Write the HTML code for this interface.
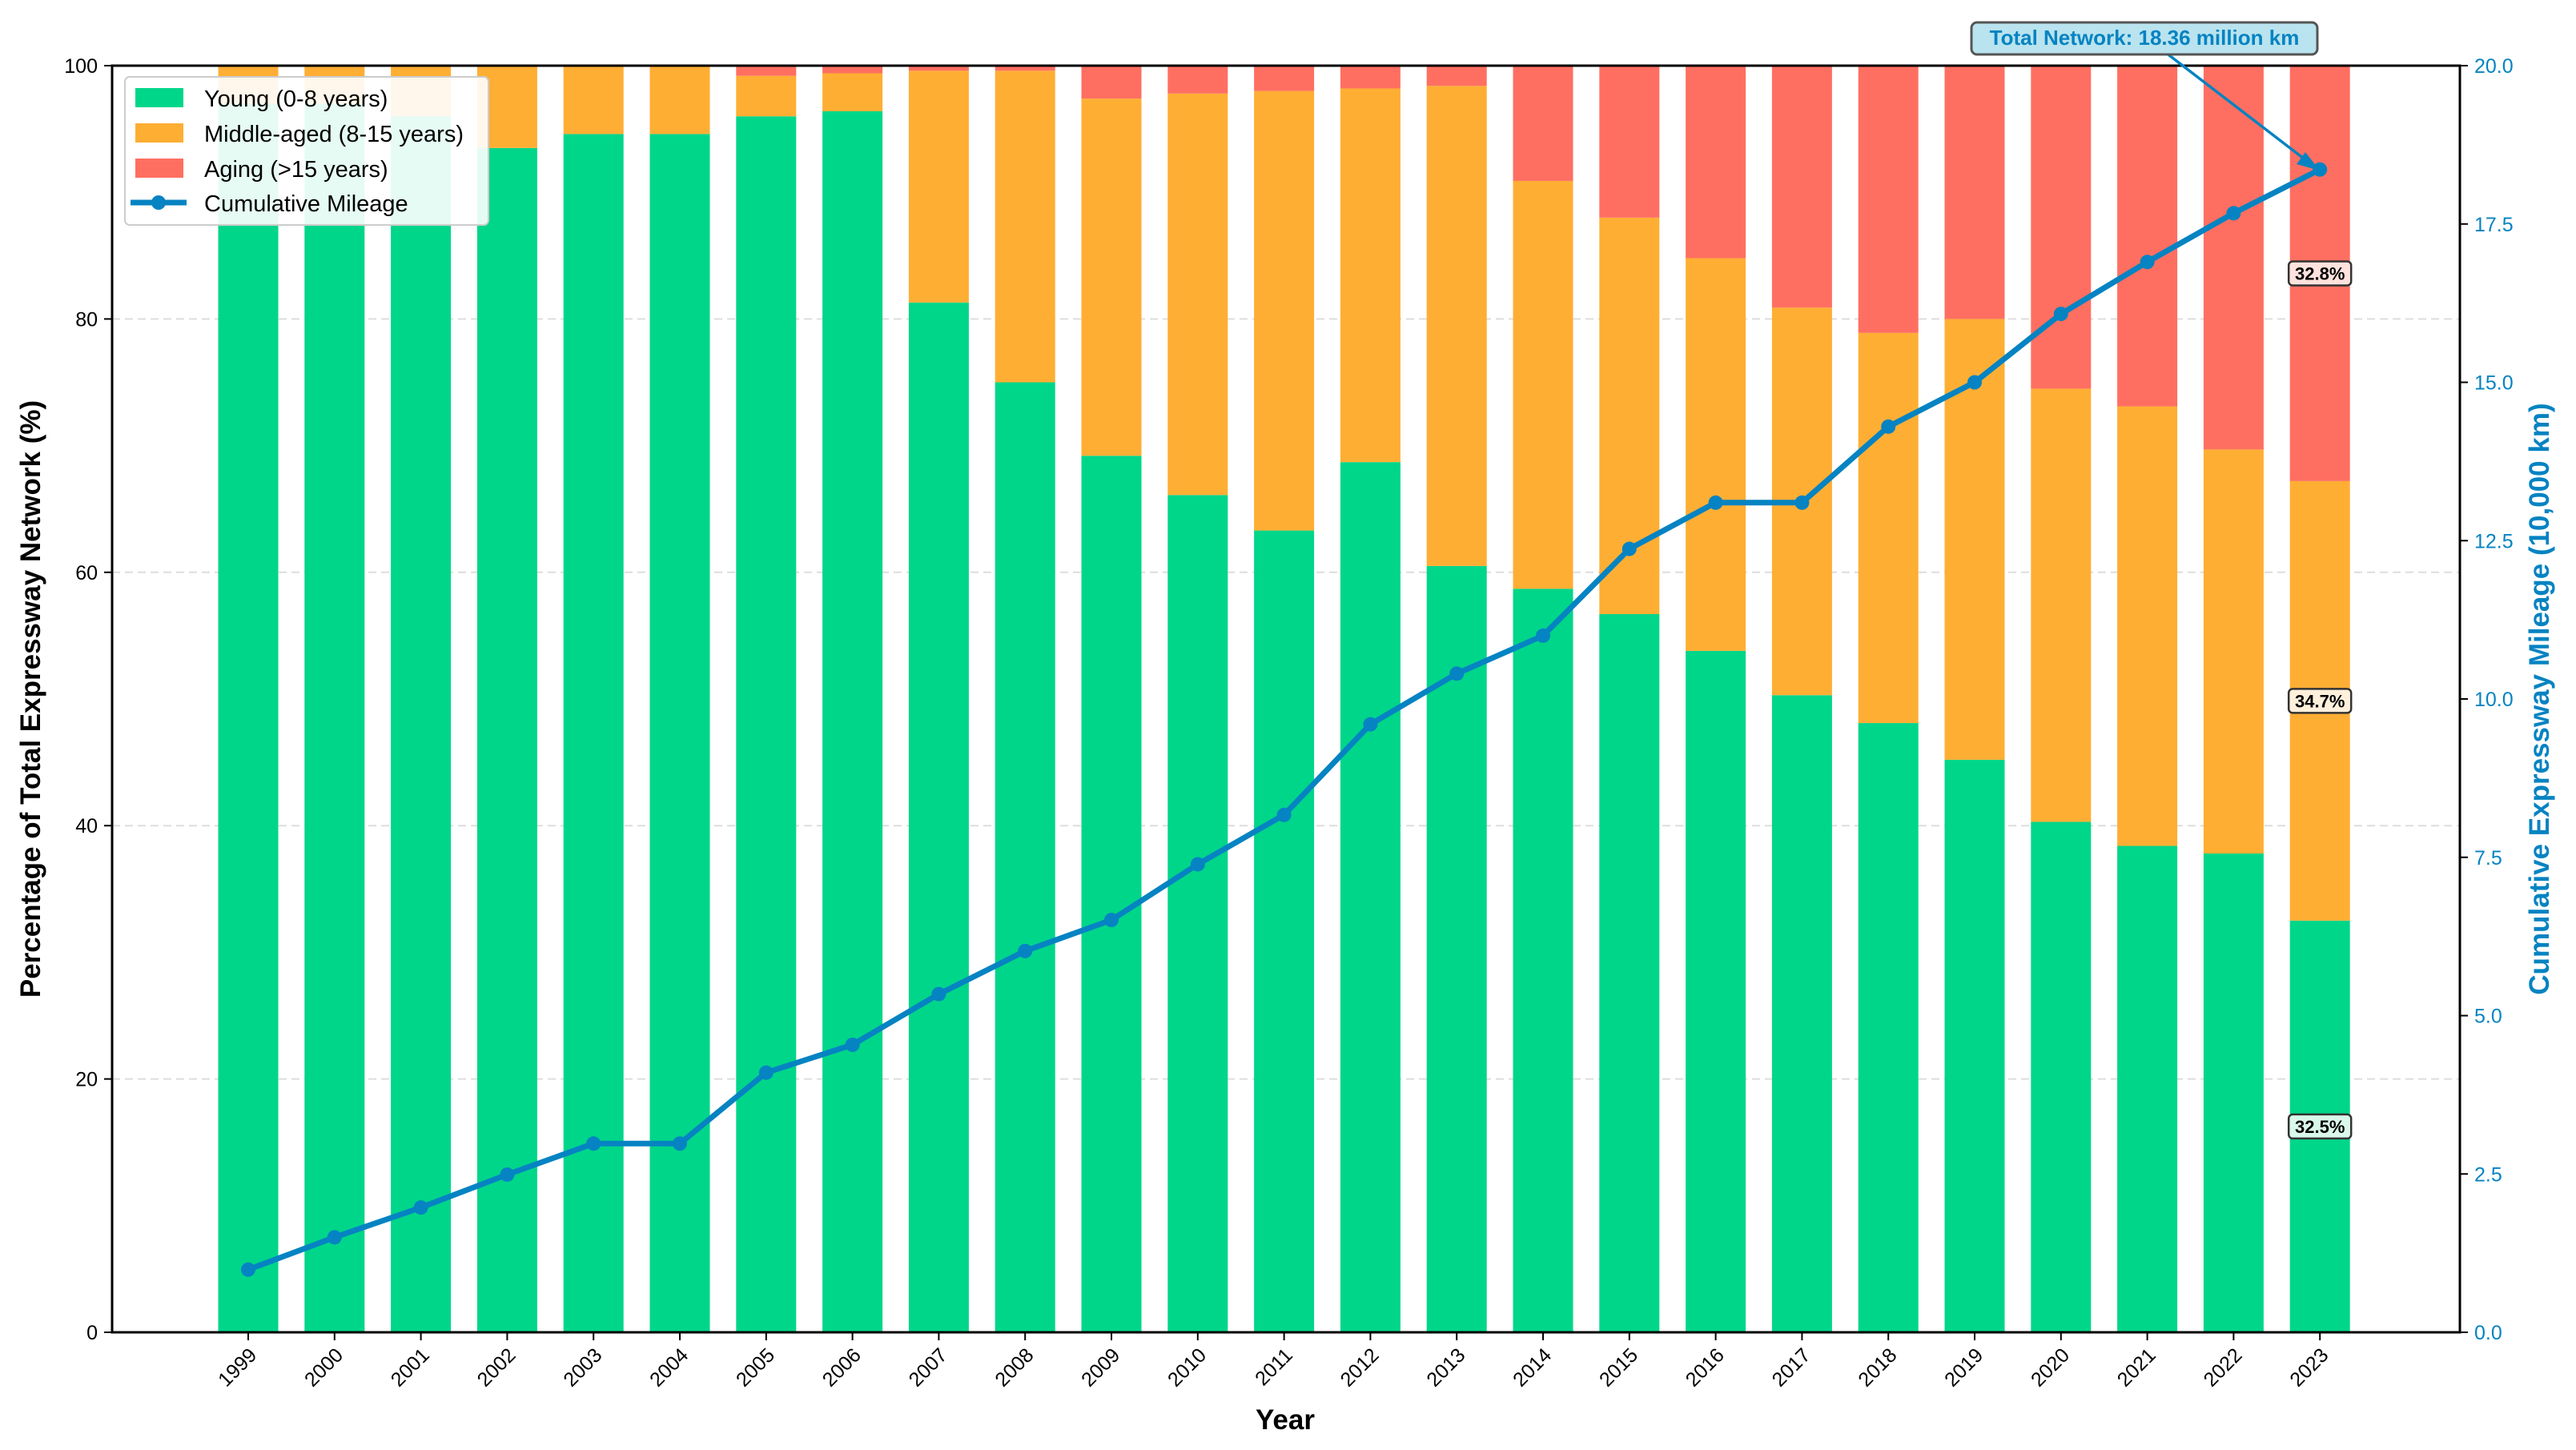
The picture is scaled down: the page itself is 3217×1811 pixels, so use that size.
<!DOCTYPE html>
<html><head><meta charset="utf-8"><style>
html,body{margin:0;padding:0;background:#fff;}
svg{display:block;font-family:"Liberation Sans",Arial,sans-serif;}
</style></head><body>
<svg id="chart" width="3217" height="1811" viewBox="0 0 3217 1811" xmlns="http://www.w3.org/2000/svg">
<g id="grid"></g>
<g id="bars"></g>
<g id="line"></g>
<g id="axes"></g>
<g id="labels"></g>
<text x="1605" y="1785" font-size="35" font-weight="bold" text-anchor="middle">Year</text>
<text transform="translate(50,873) rotate(-90)" font-size="35" font-weight="bold" text-anchor="middle">Percentage of Total Expressway Network (%)</text>
<text transform="translate(3183,873) rotate(-90)" font-size="35" font-weight="bold" fill="#0583c2" text-anchor="middle">Cumulative Expressway Mileage (10,000 km)</text>
<g>
<rect x="156" y="96" width="454" height="185" rx="6" fill="#fff" fill-opacity="0.9" stroke="#ccc" stroke-width="2"/>
<rect x="169" y="110" width="60" height="24" fill="#00d68a"/>
<text x="255" y="133" font-size="29">Young (0-8 years)</text>
<rect x="169" y="154" width="60" height="24" fill="#ffae34"/>
<text x="255" y="177" font-size="29">Middle-aged (8-15 years)</text>
<rect x="169" y="198" width="60" height="24" fill="#ff6f61"/>
<text x="255" y="221" font-size="29">Aging (&gt;15 years)</text>
<line x1="163" y1="253" x2="233" y2="253" stroke="#0583c2" stroke-width="7"/>
<circle cx="198" cy="253" r="9" fill="#0583c2"/>
<text x="255" y="264" font-size="29">Cumulative Mileage</text>
</g>
<g>
<line x1="2705" y1="66" x2="2890" y2="208" stroke="#0583c2" stroke-width="3.5"/>
<polygon points="2897,213 2868,205 2879,190" fill="#0583c2"/>
<rect x="2462" y="28" width="432" height="40" rx="7" fill="#b9e3ee" stroke="#555" stroke-width="3"/>
<text x="2678" y="56" font-size="26" font-weight="bold" fill="#0583c2" text-anchor="middle">Total Network: 18.36 million km</text>
</g>
</svg>
<script>
const years=['1999','2000','2001','2002','2003','2004','2005','2006','2007','2008','2009','2010','2011','2012','2013','2014','2015','2016','2017','2018','2019','2020','2021','2022','2023'];
const young=[97,97,96,93.5,94.6,94.6,96.0,96.4,81.3,75.0,69.2,66.1,63.3,68.7,60.5,58.7,56.7,53.8,50.3,48.1,45.2,40.3,38.4,37.8,32.5];
const youngMiddle=[100,100,100,100,100,100,99.2,99.4,99.6,99.6,97.4,97.8,98.0,98.2,98.4,90.9,88.0,84.8,80.9,78.9,80.0,74.5,73.1,69.7,67.2];
const mileage=[0.99,1.5,1.97,2.49,2.98,2.98,4.1,4.54,5.34,6.02,6.51,7.39,8.17,9.6,10.4,11.0,12.37,13.1,13.1,14.3,15.0,16.08,16.9,17.67,18.36];
const yTicks=[0,20,40,60,80,100];
const y2Ticks=['0.0','2.5','5.0','7.5','10.0','12.5','15.0','17.5','20.0'];
const NS='http://www.w3.org/2000/svg';
const L=140,R=3072,T=82,B=1664;
const xs=i=>310+107.8*i;
const ys=v=>B-(B-T)*v/100;
const y2=v=>B-(B-T)*v/20;
const BW=75;
function mk(tag,attrs,parent){const e=document.createElementNS(NS,tag);for(const k in attrs)e.setAttribute(k,attrs[k]);parent.appendChild(e);return e;}
const grid=document.getElementById('grid'),bars=document.getElementById('bars'),line=document.getElementById('line'),axes=document.getElementById('axes'),labels=document.getElementById('labels');
yTicks.forEach(t=>{if(t>0&&t<100){const g=mk('line',{x1:L,x2:R,y1:ys(t),y2:ys(t),stroke:'#ddd','stroke-width':2,'stroke-dasharray':'10,6'},grid);

}});
years.forEach((yr,i)=>{
 const x=xs(i)-BW/2;
 const a=mk('rect',{x:x,y:ys(young[i]),width:BW,height:ys(0)-ys(young[i]),fill:'#00d68a'},bars);
 
 
 const b=mk('rect',{x:x,y:ys(youngMiddle[i]),width:BW,height:ys(young[i])-ys(youngMiddle[i]),fill:'#ffae34'},bars);
 
 
 const c=mk('rect',{x:x,y:ys(100),width:BW,height:ys(youngMiddle[i])-ys(100),fill:'#ff6f61'},bars);
 
 
 const tk=mk('line',{x1:xs(i),x2:xs(i),y1:B,y2:B+10,stroke:'#000','stroke-width':2},axes);
 
 
 const tl=mk('text',{transform:`translate(${xs(i)+12},${B+30}) rotate(-45)`,'font-size':25,'text-anchor':'end'},axes);
 tl.textContent=yr;
 
 
});
const pts=mileage.map((m,i)=>xs(i)+','+y2(m)).join(' ');
const pl=mk('polyline',{points:pts,fill:'none',stroke:'#0583c2','stroke-width':7,'stroke-linejoin':'round'},line);


mileage.forEach((m,i)=>{const c=mk('circle',{cx:xs(i),cy:y2(m),r:9,fill:'#0583c2'},line);

});
const fr=mk('rect',{x:L,y:T,width:R-L,height:B-T,fill:'none',stroke:'#000','stroke-width':3},axes);


yTicks.forEach(t=>{mk('line',{x1:L-10,x2:L,y1:ys(t),y2:ys(t),stroke:'#000','stroke-width':2},axes);
 const e=mk('text',{x:L-18,y:ys(t)+9,'font-size':25,'text-anchor':'end'},axes);e.textContent=t;
 
 });
y2Ticks.forEach(t=>{const v=parseFloat(t);mk('line',{x1:R,x2:R+10,y1:y2(v),y2:y2(v),stroke:'#000','stroke-width':2},axes);
 const e=mk('text',{x:R+18,y:y2(v)+9,'font-size':25,fill:'#0583c2'},axes);e.textContent=t;
 
 });
const li=years.length-1;
const segs=[[ (youngMiddle[li]+100)/2, (100-youngMiddle[li]).toFixed(1)+'%','#ffe2dd'],[(young[li]+youngMiddle[li])/2,(youngMiddle[li]-young[li]).toFixed(1)+'%','#fff0dc'],[young[li]/2,young[li].toFixed(1)+'%','#d9f7ea']];
segs.forEach(s=>{const cy=ys(s[0]);
 const r=mk('rect',{x:xs(li)-39,y:cy-15,width:78,height:30,rx:5,fill:s[2],stroke:'#333','stroke-width':2.5},labels);
 
 
 const t=mk('text',{x:xs(li),y:cy+8,'font-size':22,'font-weight':'bold','text-anchor':'middle'},labels);t.textContent=s[1];
 
 });
</script>
</body></html>
